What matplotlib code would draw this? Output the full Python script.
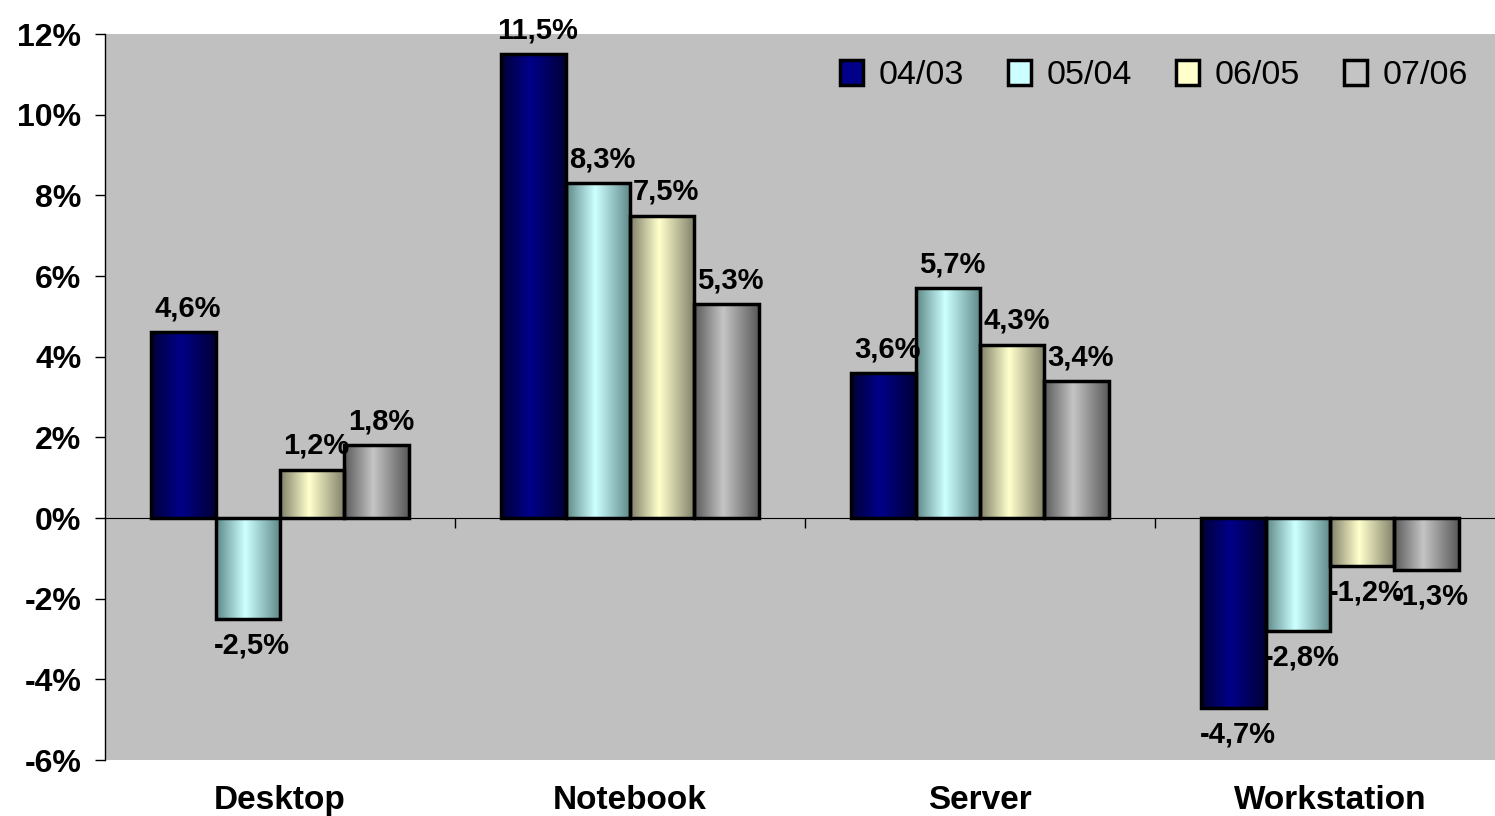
import numpy as np
import matplotlib.pyplot as plt
from matplotlib.colors import LinearSegmentedColormap
from matplotlib.patches import Patch

plt.rcParams['font.family'] = ['Liberation Sans', 'DejaVu Sans']

categories = ['Desktop', 'Notebook', 'Server', 'Workstation']
series = ['04/03', '05/04', '06/05', '07/06']
values = {
    '04/03': [4.6, 11.5, 3.6, -4.7],
    '05/04': [-2.5, 8.3, 5.7, -2.8],
    '06/05': [1.2, 7.5, 4.3, -1.2],
    '07/06': [1.8, 5.3, 3.4, -1.3],
}
# edge (dark) and centre (light) colour for each series
shades = {
    '04/03': ('#000038', '#000088'),
    '05/04': ('#5f8888', '#ccffff'),
    '06/05': ('#80806a', '#ffffcc'),
    '07/06': ('#5a5a5a', '#c4c4c4'),
}

fig = plt.figure(figsize=(14.95, 8.16), dpi=100)
ax = fig.add_axes([105 / 1495, 56 / 816, 1400 / 1495, 726 / 816])
ax.set_facecolor('#c0c0c0')
fig.patch.set_facecolor('white')

x = np.arange(len(categories))
bw = 0.184
grad = np.concatenate([np.linspace(0, 1, 45), np.linspace(1, 0, 55)])[None, :]

for i, s in enumerate(series):
    cmap = LinearSegmentedColormap.from_list(s, list(shades[s]))
    xs = x + (i - 1.5) * bw
    bars = ax.bar(xs, values[s], bw, facecolor='none', edgecolor='black',
                  linewidth=2.5, zorder=4)
    for b, v in zip(bars, values[s]):
        x0 = b.get_x()
        im = ax.imshow(grad, cmap=cmap, aspect='auto', zorder=3,
                       extent=(x0, x0 + bw, min(0, v), max(0, v)))
        im.set_clip_path(b)
        lab = f'{v:.1f}%'.replace('.', ',')
        if v >= 0:
            ax.annotate(lab, (x0 + bw / 2, v), xytext=(3, 7), textcoords='offset points',
                        ha='center', va='bottom', fontsize=21, fontweight='bold', zorder=6)
        else:
            ax.annotate(lab, (x0 + bw / 2, v), xytext=(3, -9), textcoords='offset points',
                        ha='center', va='top', fontsize=21, fontweight='bold', zorder=6)

ax.set_xlim(-0.5, 3.5)
ax.set_ylim(-6, 12)
ax.set_yticks(np.arange(-6, 13, 2))
ax.set_yticklabels([f'{t}%' for t in range(-6, 13, 2)], fontsize=23, fontweight='bold')
ax.tick_params(axis='y', length=7, width=1, direction='out', pad=10)

ax.spines['top'].set_visible(False)
ax.spines['right'].set_visible(False)
ax.spines['bottom'].set_position(('data', 0))
ax.spines['bottom'].set_zorder(5)
ax.spines['left'].set_linewidth(1)
ax.set_xticks([0.5, 1.5, 2.5])
ax.set_xticklabels([])
ax.tick_params(axis='x', length=7, width=1, direction='out')

for xi, c in zip(x, categories):
    ax.annotate(c, (xi, 0), xycoords=('data', 'axes fraction'), xytext=(0, -18),
                textcoords='offset points', ha='center', va='top',
                fontsize=24, fontweight='bold')

handles = [Patch(facecolor=shades[s][1], edgecolor='black', linewidth=2.5) for s in series]
ax.legend(handles, series, loc='upper left', bbox_to_anchor=(735 / 1400, 1 - 26 / 726), ncol=4,
          frameon=False, fontsize=24.5, handlelength=0.68, handleheight=0.75,
          handletextpad=0.45, columnspacing=1.3, borderpad=0, borderaxespad=0)

plt.savefig('out.png', dpi=100)
